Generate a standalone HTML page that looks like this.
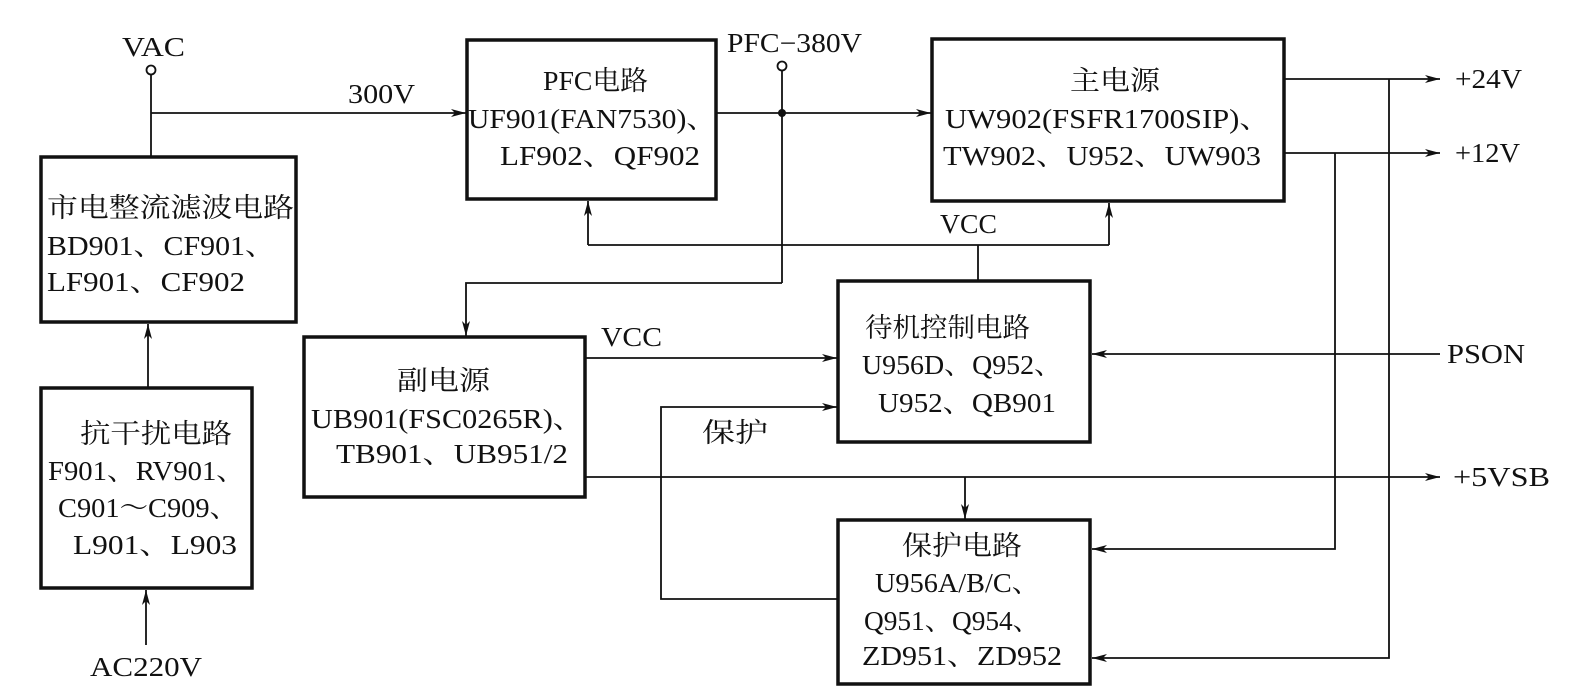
<!DOCTYPE html>
<html><head><meta charset="utf-8"><style>
html,body{margin:0;padding:0;background:#fff;}
svg{display:block;}
text{font-family:"Liberation Serif","Noto Serif CJK SC",serif;font-size:27px;fill:#111;}
</style></head><body>
<svg width="1578" height="700" viewBox="0 0 1578 700" xmlns="http://www.w3.org/2000/svg">
<defs>
<marker id="a" markerWidth="16" markerHeight="8" refX="15" refY="4" orient="auto" markerUnits="userSpaceOnUse">
<path d="M0,0 L15,4 L0,8 L4,4 Z" fill="#111"/>
</marker>
</defs>
<g fill="none" stroke="#111" stroke-width="3.5">
<rect x="41" y="157" width="255" height="165"/>
<rect x="41" y="388" width="211" height="200"/>
<rect x="467" y="40" width="249" height="159"/>
<rect x="932" y="39" width="352" height="162"/>
<rect x="304" y="337" width="281" height="160"/>
<rect x="838" y="281" width="252" height="161"/>
<rect x="838" y="520" width="252" height="164"/>
</g>
<g fill="none" stroke="#111" stroke-width="1.8">
<circle cx="151" cy="70" r="4.5" fill="#fff"/>
<line x1="151" y1="75" x2="151" y2="157"/>
<line x1="151" y1="113" x2="466" y2="113" marker-end="url(#a)"/>
<circle cx="782" cy="66" r="4.5" fill="#fff"/>
<line x1="782" y1="71" x2="782" y2="283"/>
<line x1="716" y1="113" x2="931" y2="113" marker-end="url(#a)"/>
<polyline points="782,283 466,283 466,336" marker-end="url(#a)"/>
<line x1="588" y1="245" x2="1109" y2="245"/>
<line x1="588" y1="245" x2="588" y2="201" marker-end="url(#a)"/>
<line x1="1109" y1="245" x2="1109" y2="203" marker-end="url(#a)"/>
<line x1="978" y1="245" x2="978" y2="280"/>
<line x1="1284" y1="79" x2="1440" y2="79" marker-end="url(#a)"/>
<line x1="1284" y1="153" x2="1440" y2="153" marker-end="url(#a)"/>
<polyline points="1389,79 1389,658 1092,658" marker-end="url(#a)"/>
<polyline points="1335,153 1335,549 1092,549" marker-end="url(#a)"/>
<line x1="1440" y1="354" x2="1092" y2="354" marker-end="url(#a)"/>
<line x1="585" y1="358" x2="837" y2="358" marker-end="url(#a)"/>
<polyline points="838,599 661,599 661,407 837,407" marker-end="url(#a)"/>
<line x1="585" y1="477" x2="1440" y2="477" marker-end="url(#a)"/>
<line x1="965" y1="477" x2="965" y2="519" marker-end="url(#a)"/>
<line x1="146" y1="645" x2="146" y2="590" marker-end="url(#a)"/>
<line x1="148" y1="387" x2="148" y2="324" marker-end="url(#a)"/>
</g>
<circle cx="782" cy="113" r="4" fill="#111"/>
<g lengthAdjust="spacingAndGlyphs">
<text x="122" y="56" textLength="63" lengthAdjust="spacingAndGlyphs">VAC</text>
<text x="348" y="103" textLength="67" lengthAdjust="spacingAndGlyphs">300V</text>
<text x="727" y="52" textLength="135" lengthAdjust="spacingAndGlyphs">PFC−380V</text>
<text x="940" y="233" textLength="57" lengthAdjust="spacingAndGlyphs">VCC</text>
<text x="601" y="346" textLength="61" lengthAdjust="spacingAndGlyphs">VCC</text>
<text x="702" y="442" textLength="66" lengthAdjust="spacingAndGlyphs">保护</text>
<text x="1455" y="88" textLength="67" lengthAdjust="spacingAndGlyphs">+24V</text>
<text x="1455" y="162" textLength="65" lengthAdjust="spacingAndGlyphs">+12V</text>
<text x="1447" y="363" textLength="78" lengthAdjust="spacingAndGlyphs">PSON</text>
<text x="1453" y="486" textLength="97" lengthAdjust="spacingAndGlyphs">+5VSB</text>
<text x="90" y="676" textLength="112" lengthAdjust="spacingAndGlyphs">AC220V</text>

<text x="47" y="217" textLength="247" lengthAdjust="spacingAndGlyphs">市电整流滤波电路</text>
<text x="47" y="255" textLength="228" lengthAdjust="spacingAndGlyphs">BD901、CF901、</text>
<text x="47" y="291" textLength="198" lengthAdjust="spacingAndGlyphs">LF901、CF902</text>

<text x="80" y="443" textLength="152" lengthAdjust="spacingAndGlyphs">抗干扰电路</text>
<text x="48" y="480" textLength="197" lengthAdjust="spacingAndGlyphs">F901、RV901、</text>
<text x="58" y="517" textLength="180" lengthAdjust="spacingAndGlyphs">C901～C909、</text>
<text x="73" y="554" textLength="164" lengthAdjust="spacingAndGlyphs">L901、L903</text>

<text x="543" y="90" textLength="105" lengthAdjust="spacingAndGlyphs">PFC电路</text>
<text x="468" y="128" textLength="248" lengthAdjust="spacingAndGlyphs">UF901(FAN7530)、</text>
<text x="500" y="165" textLength="200" lengthAdjust="spacingAndGlyphs">LF902、QF902</text>

<text x="1070" y="90" textLength="90" lengthAdjust="spacingAndGlyphs">主电源</text>
<text x="945" y="128" textLength="325" lengthAdjust="spacingAndGlyphs">UW902(FSFR1700SIP)、</text>
<text x="943" y="165" textLength="318" lengthAdjust="spacingAndGlyphs">TW902、U952、UW903</text>

<text x="397" y="390" textLength="93" lengthAdjust="spacingAndGlyphs">副电源</text>
<text x="311" y="428" textLength="272" lengthAdjust="spacingAndGlyphs">UB901(FSC0265R)、</text>
<text x="336" y="463" textLength="232" lengthAdjust="spacingAndGlyphs">TB901、UB951/2</text>

<text x="865" y="337" textLength="165" lengthAdjust="spacingAndGlyphs">待机控制电路</text>
<text x="862" y="374" textLength="200" lengthAdjust="spacingAndGlyphs">U956D、Q952、</text>
<text x="878" y="412" textLength="178" lengthAdjust="spacingAndGlyphs">U952、QB901</text>

<text x="902" y="555" textLength="120" lengthAdjust="spacingAndGlyphs">保护电路</text>
<text x="875" y="592" textLength="165" lengthAdjust="spacingAndGlyphs">U956A/B/C、</text>
<text x="864" y="630" textLength="176" lengthAdjust="spacingAndGlyphs">Q951、Q954、</text>
<text x="862" y="665" textLength="200" lengthAdjust="spacingAndGlyphs">ZD951、ZD952</text>
</g>
</svg>
</body></html>
